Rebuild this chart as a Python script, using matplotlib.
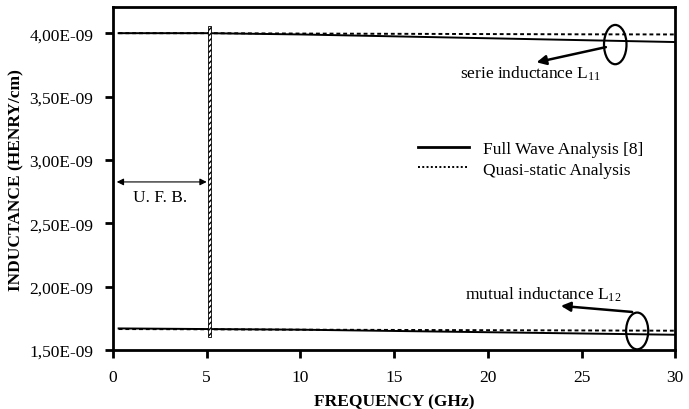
import numpy as np
import matplotlib.pyplot as plt
from matplotlib.patches import Ellipse, Rectangle
from matplotlib.ticker import FuncFormatter

plt.rcParams['font.family'] = ['Liberation Serif', 'DejaVu Serif']
plt.rcParams['mathtext.fontset'] = 'custom'
plt.rcParams['mathtext.rm'] = 'Liberation Serif'
plt.rcParams['mathtext.it'] = 'Liberation Serif:italic'

# Frequency points (GHz)
freq = [0.3, 5, 10, 15, 20, 25, 30]

# Full wave analysis [8] (H/cm)
l11_full = [4.00e-9, 4.00e-9, 3.99e-9, 3.975e-9, 3.96e-9, 3.945e-9, 3.93e-9]
l12_full = [1.67e-9, 1.665e-9, 1.66e-9, 1.65e-9, 1.64e-9, 1.63e-9, 1.62e-9]

# Quasi-static analysis (H/cm)
l11_qs = [4.00e-9, 4.00e-9, 3.997e-9, 3.995e-9, 3.993e-9, 3.991e-9, 3.99e-9]
l12_qs = [1.665e-9, 1.663e-9, 1.66e-9, 1.658e-9, 1.656e-9, 1.654e-9, 1.652e-9]

x_ticks = [0, 5, 10, 15, 20, 25, 30]
y_ticks = [1.5e-9, 2.0e-9, 2.5e-9, 3.0e-9, 3.5e-9, 4.0e-9]

fig = plt.figure(figsize=(6.89, 4.10), dpi=100)
ax = fig.add_axes([0.164, 0.144, 0.816, 0.836])

ax.plot(freq, l11_full, color='black', lw=1.4, label='Full Wave Analysis [8]')
ax.plot(freq, l11_qs, color='black', lw=1.4, ls=(0, (2, 1.5)), label='Quasi-static Analysis')
ax.plot(freq, l12_full, color='black', lw=1.4)
ax.plot(freq, l12_qs, color='black', lw=1.4, ls=(0, (2, 1.5)))

# U.F.B. boundary (hatched bar)
ax.add_patch(Rectangle((5.05, 1.6e-9), 0.2, 2.46e-9, facecolor='white',
                       edgecolor='black', hatch='//////', lw=0.6, zorder=3))
ax.annotate('', xy=(0.2, 2.826e-9), xytext=(5.0, 2.826e-9),
            arrowprops=dict(arrowstyle='<|-|>', color='black', lw=0.8,
                            mutation_scale=10, shrinkA=0, shrinkB=0))
ax.text(2.5, 2.71e-9, 'U. F. B.', ha='center', va='center', fontsize=12.5)

# Ellipses and annotation arrows
ax.add_patch(Ellipse((26.8, 3.91e-9), 1.2, 0.31e-9, fill=False, lw=1.6, color='black'))
ax.add_patch(Ellipse((27.97, 1.65e-9), 1.18, 0.29e-9, fill=False, lw=1.6, color='black'))
ax.annotate('', xy=(22.6, 3.77e-9), xytext=(26.3, 3.89e-9),
            arrowprops=dict(arrowstyle='-|>', color='black', lw=1.8, mutation_scale=14,
                            shrinkA=0, shrinkB=0))
ax.annotate('', xy=(23.9, 1.848e-9), xytext=(27.7, 1.80e-9),
            arrowprops=dict(arrowstyle='-|>', color='black', lw=1.8, mutation_scale=14,
                            shrinkA=0, shrinkB=0))
ax.text(22.3, 3.69e-9, 'serie inductance L$_{11}$', ha='center', va='center', fontsize=12.5)
ax.text(18.8, 1.94e-9, 'mutual inductance L$_{12}$', ha='left', va='center', fontsize=12.5)

ax.set_xlim(0, 30)
ax.set_ylim(1.5e-9, 4.205e-9)
ax.set_xticks(x_ticks)
ax.set_yticks(y_ticks)
ax.yaxis.set_major_formatter(FuncFormatter(lambda v, p: ('%.2E' % v).replace('.', ',')))
ax.tick_params(direction='out', length=6, width=2, labelsize=12.5, pad=8)
for s in ax.spines.values():
    s.set_linewidth(2)

ax.set_xlabel('FREQUENCY (GHz)', fontsize=12.5, fontweight='bold', labelpad=6)
ax.set_ylabel('INDUCTANCE (HENRY/cm)', fontsize=12.5, fontweight='bold', labelpad=4)

leg = ax.legend(loc='upper left', bbox_to_anchor=(0.543, 0.61), frameon=False,
                fontsize=12.5, handlelength=2.9, handletextpad=0.8,
                labelspacing=0.25, borderpad=0, borderaxespad=0)
leg.get_lines()[0].set_linewidth(2)
leg.get_lines()[1].set_linestyle((0, (1, 1.2)))

fig.savefig('out.png', dpi=100)
